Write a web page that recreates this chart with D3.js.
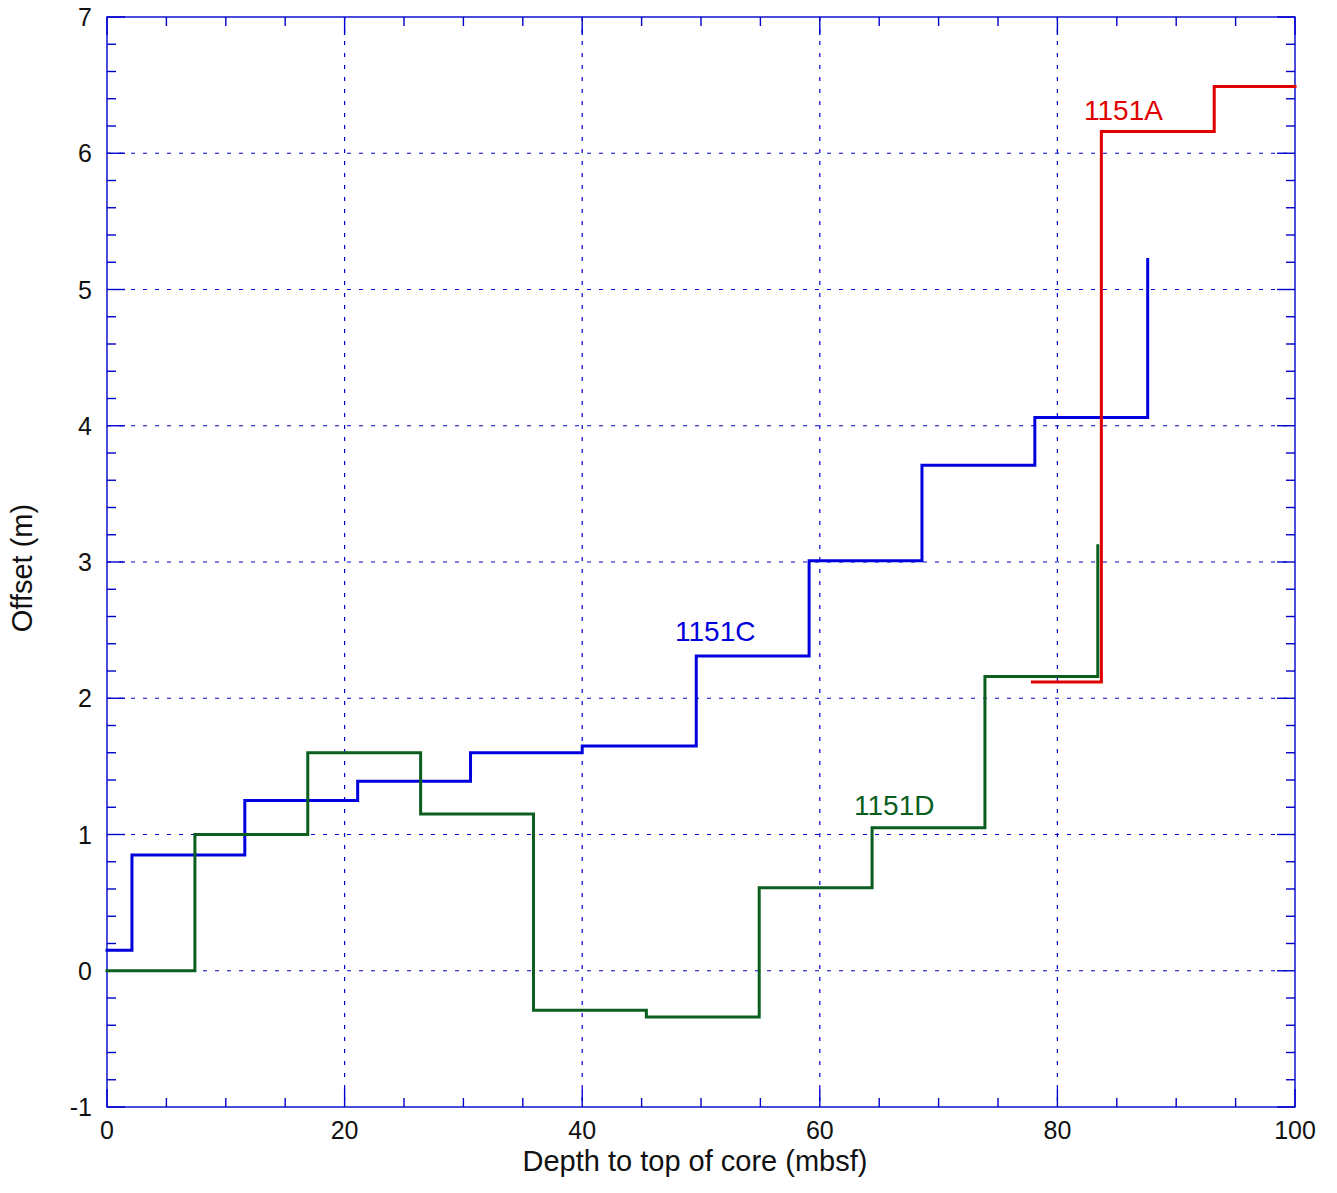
<!DOCTYPE html>
<html>
<head>
<meta charset="utf-8">
<script src="https://cdn.jsdelivr.net/npm/d3@7"></script>
<style>
  html, body { margin: 0; padding: 0; background: #fff; }
  svg { display: block; }
  text { font-family: "Liberation Sans", Arial, Helvetica, sans-serif; }
</style>
</head>
<body>
<svg id="chart" width="1337" height="1193"></svg>
<script>
// Hole 1151C: core-top depths (mbsf) and offsets (m)
const depthC  = [0, 2.1, 11.6, 21.1, 30.6, 40.0, 49.6, 59.1, 68.6, 78.1, 87.6];
const offsetC = [0.15, 0.85, 1.25, 1.39, 1.60, 1.65, 2.31, 3.01, 3.71, 4.06, 5.22];

// Hole 1151D
const depthD  = [0, 7.4, 16.9, 26.4, 35.9, 45.4, 54.9, 64.4, 73.9, 83.4];
const offsetD = [0, 1.00, 1.60, 1.15, -0.29, -0.34, 0.61, 1.05, 2.16, 3.12];

// Hole 1151A
const depthA  = [77.9, 83.7, 93.2, 100];
const offsetA = [2.12, 6.16, 6.49, 6.49];

const xTicks = [0, 20, 40, 60, 80, 100];
const yTicks = [-1, 0, 1, 2, 3, 4, 5, 6, 7];

const holes = [
  { name: "1151C", depth: depthC, offset: offsetC, color: "#0000dd" },
  { name: "1151D", depth: depthD, offset: offsetD, color: "#0a5e1e" },
  { name: "1151A", depth: depthA, offset: offsetA, color: "#e00000" }
];

const axisBlue = "#0000cc";
const svg = d3.select("#chart");
const plotL = 107, plotR = 1295, plotT = 17, plotB = 1107;

const x = d3.scaleLinear().domain([0, 100]).range([plotL, plotR]);
const y = d3.scaleLinear().domain([-1, 7]).range([plotB, plotT]);

// dashed grid
const grid = svg.append("g")
  .attr("stroke", axisBlue).attr("stroke-width", 1.2)
  .attr("stroke-dasharray", "4,8");
grid.selectAll("line.v").data(xTicks.filter(d => d > 0 && d < 100)).join("line")
  .attr("class", "v")
  .attr("x1", d => x(d)).attr("x2", d => x(d))
  .attr("y1", plotT).attr("y2", plotB);
grid.selectAll("line.h").data(yTicks.filter(d => d > -1 && d < 7)).join("line")
  .attr("class", "h")
  .attr("y1", d => y(d)).attr("y2", d => y(d))
  .attr("x1", plotL).attr("x2", plotR);

// frame with inward ticks on all four sides
const xMinor = d3.range(0, 100.01, 5);
const yMinor = d3.range(-1, 7.01, 0.2).map(v => Math.round(v * 10) / 10);
const isMajorX = d => xTicks.includes(d);
const isMajorY = d => Math.abs(d - Math.round(d)) < 1e-6;

const frame = svg.append("g").attr("stroke", axisBlue).attr("stroke-width", 1.4);
frame.append("rect")
  .attr("x", plotL).attr("y", plotT)
  .attr("width", plotR - plotL).attr("height", plotB - plotT)
  .attr("fill", "none");

xMinor.forEach(d => {
  const len = isMajorX(d) ? 18 : 9;
  frame.append("line").attr("x1", x(d)).attr("x2", x(d)).attr("y1", plotB).attr("y2", plotB - len);
  frame.append("line").attr("x1", x(d)).attr("x2", x(d)).attr("y1", plotT).attr("y2", plotT + len);
});
yMinor.forEach(d => {
  const len = isMajorY(d) ? 18 : 9;
  frame.append("line").attr("y1", y(d)).attr("y2", y(d)).attr("x1", plotL).attr("x2", plotL + len);
  frame.append("line").attr("y1", y(d)).attr("y2", y(d)).attr("x1", plotR).attr("x2", plotR - len);
});

// tick labels
svg.append("g").selectAll("text").data(xTicks).join("text")
  .attr("x", d => x(d)).attr("y", 1139)
  .attr("text-anchor", "middle")
  .attr("font-size", 25).attr("fill", "#111")
  .text(d => d);
svg.append("g").selectAll("text").data(yTicks).join("text")
  .attr("x", 92).attr("y", d => y(d))
  .attr("dy", "0.36em")
  .attr("text-anchor", "end")
  .attr("font-size", 25).attr("fill", "#111")
  .text(d => d);

// axis titles
svg.append("text")
  .attr("x", 695).attr("y", 1171)
  .attr("text-anchor", "middle")
  .attr("font-size", 29).attr("fill", "#111")
  .text("Depth to top of core (mbsf)");
svg.append("text")
  .attr("transform", "translate(32,568) rotate(-90)")
  .attr("text-anchor", "middle")
  .attr("font-size", 29).attr("fill", "#111")
  .text("Offset (m)");

// offset step curves
const line = d3.line()
  .x(d => x(d[0])).y(d => y(d[1]))
  .curve(d3.curveStepAfter);

const plot = svg.append("g");
holes.forEach(h => {
  const pts = h.depth.map((d, i) => [d, h.offset[i]]);
  plot.append("path")
    .attr("d", line(pts))
    .attr("fill", "none")
    .attr("stroke", h.color)
    .attr("stroke-width", 3)
    .attr("stroke-linecap", "square");
});

// hole labels, placed just above the step each one names
const labelPos = {
  "1151C": [675, 641],
  "1151D": [854, 815],
  "1151A": [1084, 120]
};
holes.forEach(h => {
  svg.append("text")
    .attr("x", labelPos[h.name][0]).attr("y", labelPos[h.name][1])
    .attr("font-size", 28).attr("fill", h.color)
    .text(h.name);
});
</script>
</body>
</html>
